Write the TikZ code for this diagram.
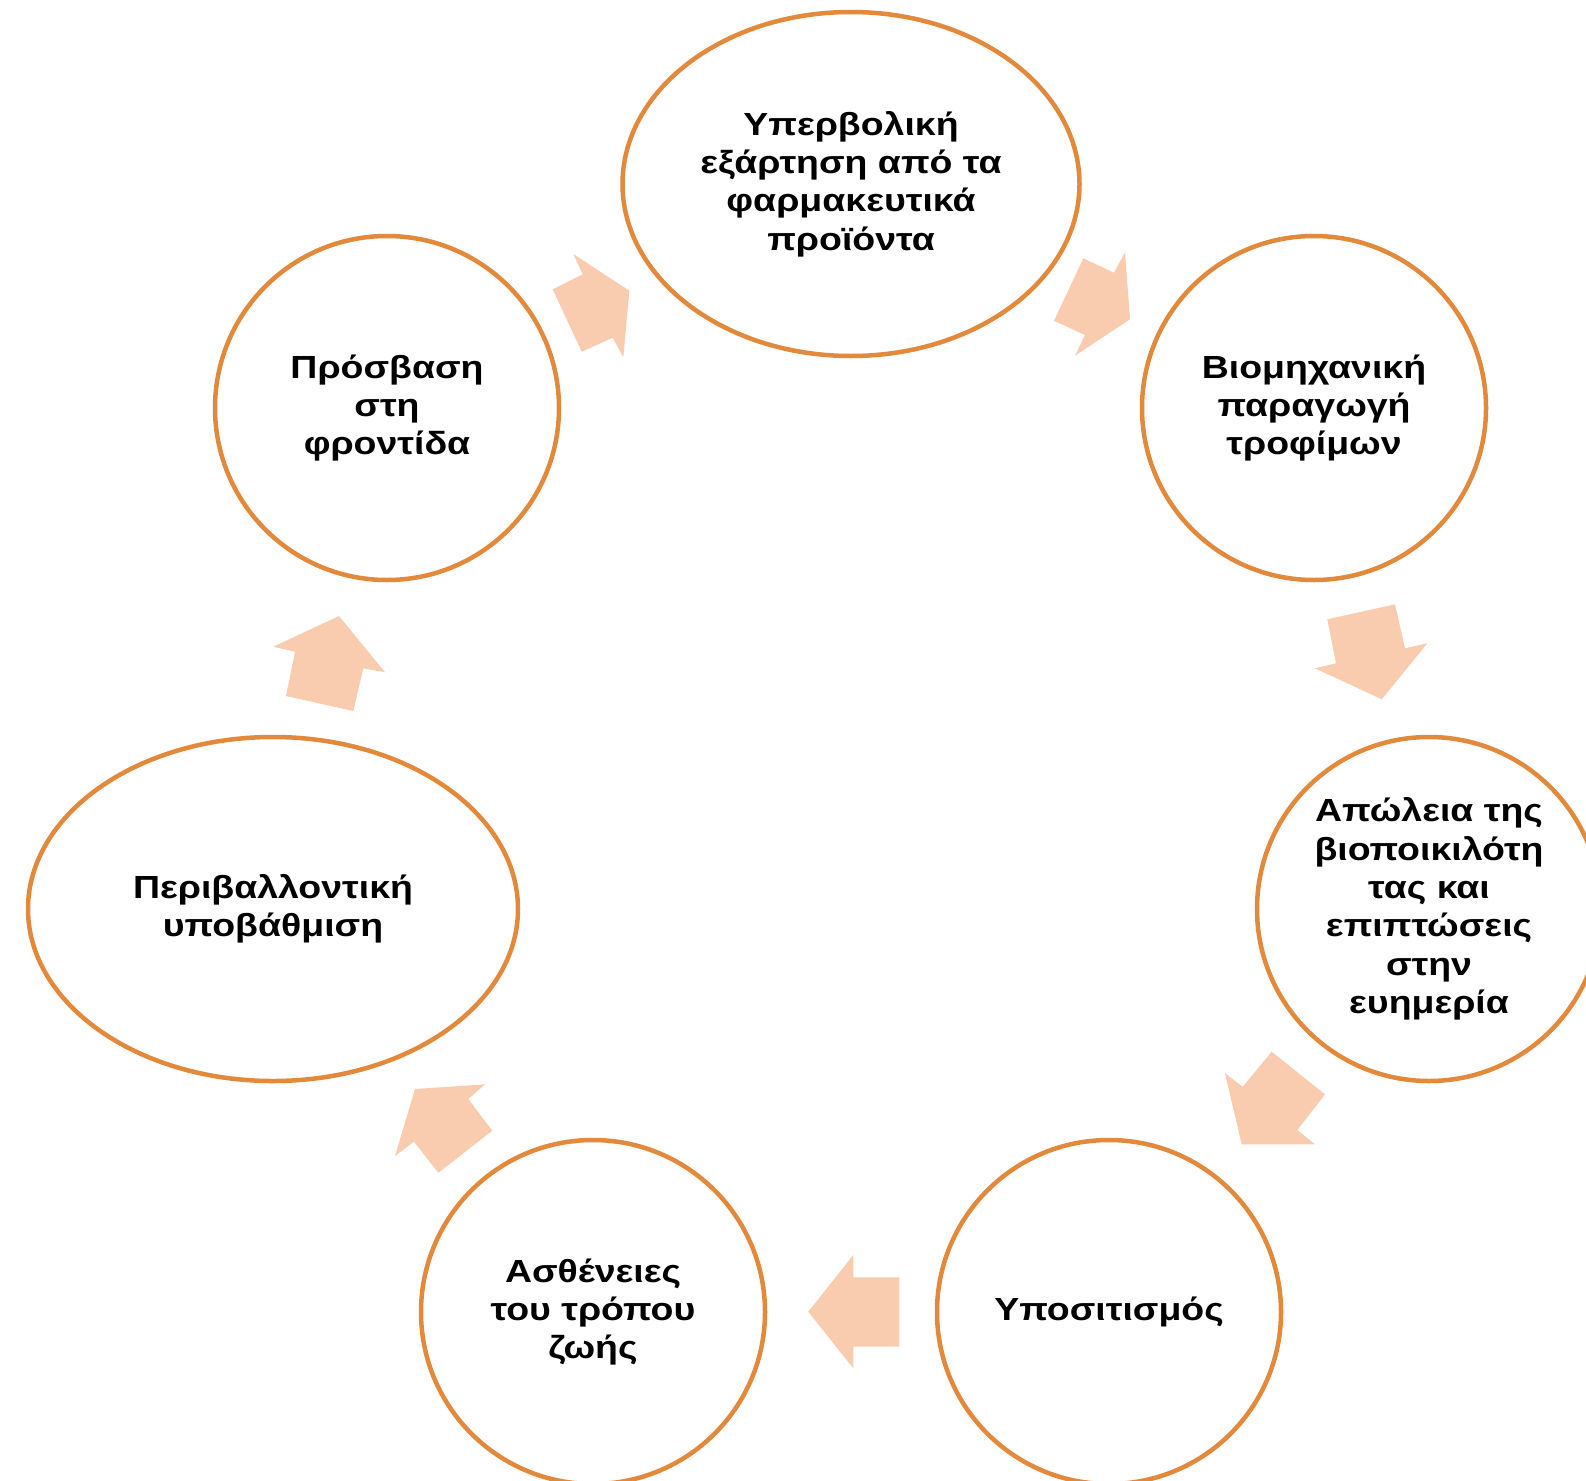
\documentclass[tikz,border=0pt]{standalone}
\usepackage{fontspec}
\setmainfont{Liberation Sans}[FakeStretch=1.17]
\usetikzlibrary{shapes.geometric}
\definecolor{ringorange}{RGB}{226,137,60}
\definecolor{arrowpeach}{RGB}{249,203,175}

\begin{document}
\begin{tikzpicture}[x=1pt, y=-1pt,
  every node/.style={draw=ringorange, line width=4.5pt, inner sep=0pt, align=center,
    font=\fontsize{32}{38.3}\selectfont\bfseries},
  oval/.style={ellipse, minimum width=457pt, minimum height=344pt},
  roundbox/.style={circle, minimum size=344pt},
  widebox/.style={ellipse, minimum width=490pt, minimum height=344pt},
  blockarrow/.style={fill=arrowpeach, draw=none}]
\useasboundingbox (0,0) rectangle (1586,1480);

\node[oval] (depend) at (851,184) {Υπερβολική\\εξάρτηση από τα\\φαρμακευτικά\\προϊόντα};
\node[roundbox] (industry) at (1314,408) {Βιομηχανική\\παραγωγή\\τροφίμων};
\node[roundbox] (biodiv) at (1429,909) {Απώλεια της\\βιοποικιλότη\\τας και\\επιπτώσεις\\στην\\ευημερία};
\node[roundbox] (undernut) at (1109,1312) {Υποσιτισμός};
\node[roundbox] (lifestyle) at (593,1312) {Ασθένειες\\του τρόπου\\ζωής};
\node[widebox] (environ) at (273,909) {Περιβαλλοντική\\υποβάθμιση};
\node[roundbox] (access) at (387,408) {Πρόσβαση\\στη\\φροντίδα};

\fill[blockarrow] (573.3,254) -- (629.3,290.7) -- (623.3,357.3) -- (612.7,337.7) -- (581.7,351.7) -- (552.7,289.3) -- (582.7,274.3) -- cycle;
\fill[blockarrow] (1083.3,258.3) -- (1114,272.7) -- (1125,252.3) -- (1130,319.3) -- (1075,355.7) -- (1085,335) -- (1054,320.7) -- cycle;
\fill[blockarrow] (1327.3,619.3) -- (1395,604.3) -- (1405,648.3) -- (1427.3,643.3) -- (1381.7,699.3) -- (1315,668.3) -- (1336,663.3) -- cycle;
\fill[blockarrow] (1271.7,1051.7) -- (1325,1094.3) -- (1297.3,1130) -- (1315,1144.3) -- (1241.7,1144.3) -- (1225,1073.3) -- (1242.7,1086.7) -- cycle;
\fill[blockarrow] (853.3,1255) -- (853.3,1277.3) -- (899.3,1277.3) -- (899.3,1346.7) -- (853.3,1346.7) -- (853.3,1368.3) -- (808.3,1311.7) -- cycle;
\fill[blockarrow] (415,1089) -- (485,1084.3) -- (468.3,1099) -- (492.3,1130.7) -- (438.3,1172.7) -- (414,1141.7) -- (395,1156) -- cycle;
\fill[blockarrow] (339,616) -- (385,672.3) -- (363.3,668.3) -- (353.3,711) -- (286,696) -- (295,651.7) -- (273.3,646.7) -- cycle;
\end{tikzpicture}
\end{document}
